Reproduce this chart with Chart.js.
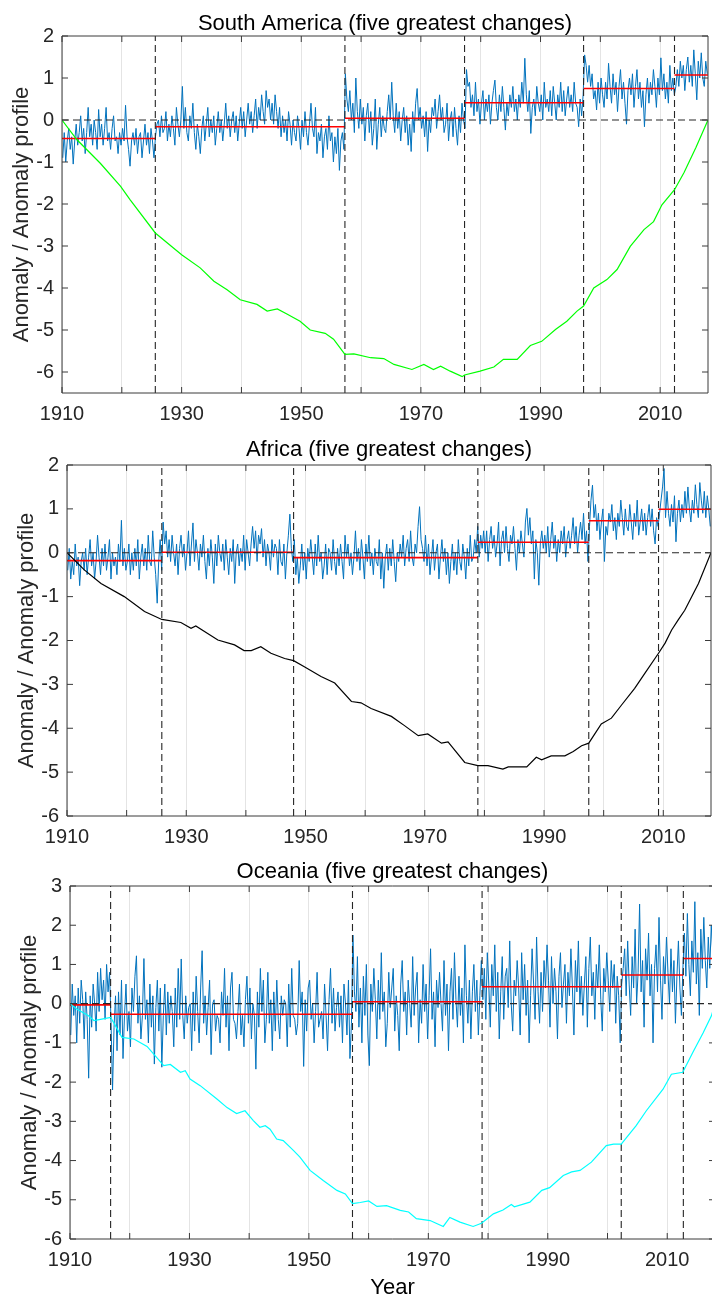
<!DOCTYPE html>
<html>
<head>
<meta charset="utf-8">
<title>Temperature anomalies - five greatest changes</title>
<script src="https://cdn.jsdelivr.net/npm/chart.js@4.4.0/dist/chart.umd.min.js"></script>
<style>
  html, body { margin: 0; padding: 0; background: #fff; overflow: hidden; }
  .panel { position: absolute; left: 0; }
</style>
</head>
<body>
<div class="panel" style="top:0;width:712px;height:430px"><canvas id="southAmericaChart"></canvas></div>
<div class="panel" style="top:430px;width:712px;height:430px"><canvas id="africaChart"></canvas></div>
<div class="panel" style="top:860px;width:720px;height:446px"><canvas id="oceaniaChart"></canvas></div>
<script>
const firstYear = 1910;
const lastYear = 2018;
const samplesPerYear = 4;

// South America: quarterly anomalies 1910-2017
const saAnomaly = [
  -0.9,-0.3,-1.0,-0.5, -0.2,-0.7,-0.4,-1.05, -0.5,-0.1,-0.6,-0.3, 0.1,-0.5,-0.2,-0.8, -0.3,0.3,-0.4,-0.1,
  -0.6,0.0,-0.3,-0.7, 0.25,-0.4,-0.1,-0.6, -0.2,0.3,-0.5,-0.3, -0.7,-0.2,0.1,-0.5, -0.4,-0.8,-0.3,-0.6,
  -0.2,-0.5,0.35,-0.4, -0.7,-1.1,-0.5,-0.3, -0.6,-0.2,-0.8,-0.4, -0.3,-0.9,-0.5,-0.1, -0.6,-0.3,-0.8,-0.2,
  -0.5,-0.9,-0.4,-0.1, 0.0,-0.4,0.1,-0.3, -0.2,0.2,-0.5,-0.1, -0.4,0.1,-0.2,-0.6, 0.3,-0.1,-0.4,0.0,
  0.8,-0.2,0.3,-0.3, -0.5,0.1,-0.2,0.4, -0.3,-0.7,-0.1,-0.4, -0.8,-0.2,0.1,-0.5, -0.1,0.3,-0.4,0.0,
  -0.3,0.1,-0.6,-0.2, 0.2,-0.3,0.0,-0.5, -0.1,0.4,-0.2,0.1, -0.4,0.0,0.2,-0.3, 0.1,-0.5,-0.1,0.3,
  -0.2,0.2,-0.4,0.0, 0.4,-0.1,0.2,-0.3, 0.1,0.5,-0.2,0.3, 0.0,0.6,0.2,-0.1, 0.7,0.3,0.5,0.0,
  0.4,-0.1,0.6,0.2, -0.2,0.3,-0.4,0.1, -0.3,0.0,-0.5,0.2, -0.1,-0.6,0.0,-0.3, -0.5,0.1,-0.2,-0.7,
  0.0,-0.4,0.2,-0.3, -0.6,-0.1,0.4,-0.2, -0.4,0.3,-0.8,-0.3, -0.5,-0.1,-0.9,-0.4, -0.2,-0.7,0.1,-0.5,
  -0.3,-1.0,-0.4,-0.8, -0.2,-1.2,-0.5,-0.3, -0.7,1.1,0.5,0.2, 0.7,0.0,0.4,-0.3, 1.0,0.2,-0.2,0.5,
  -0.1,0.3,-0.5,0.1, 0.4,-0.3,0.2,-0.6, -0.2,0.5,-0.7,-0.1, 0.3,-0.4,0.1,-0.2, -0.3,0.2,0.6,0.0,
  0.9,0.1,-0.3,0.4, -0.2,0.2,-0.5,0.0, 0.3,-0.3,0.1,-0.6, -0.1,-0.75,0.2,-0.3, 0.4,0.75,0.0,0.3,
  -0.2,0.1,-0.4,0.2, -0.75,0.0,-0.3,0.3, 0.1,0.5,-0.2,0.2, 0.6,0.0,0.3,-0.3, -0.1,0.4,-0.5,0.0,
  0.2,-0.4,0.3,-0.2, -0.6,0.1,-0.3,0.4, 0.0,-0.2,1.2,0.8, 0.9,0.3,0.6,0.1, 0.9,0.2,0.5,-0.1,
  0.4,0.7,0.0,0.5, 0.2,0.6,-0.1,0.4, 0.7,0.95,0.3,0.0, 0.6,0.2,0.8,0.3, -0.24,0.4,0.1,0.6,
  0.3,0.8,0.2,0.5, 0.0,0.6,0.3,0.9, 0.4,1.47,0.6,0.2, 0.7,-0.32,0.3,0.5, 0.1,0.8,0.4,0.2,
  0.6,0.0,0.9,0.3, 0.5,0.2,0.7,0.1, 0.8,0.4,0.0,0.6, 0.3,0.9,0.2,0.7, 0.1,0.5,0.8,0.3,
  0.6,0.2,0.9,0.4, 0.3,-0.16,0.5,0.1, 0.6,1.55,1.3,0.9, 1.3,0.8,1.1,0.5, 0.7,0.24,0.9,0.4,
  1.0,0.6,0.3,0.9, 0.5,1.35,0.8,0.4, 1.1,0.6,0.9,0.2, 0.8,1.2,0.5,0.9, 0.4,-0.1,0.7,1.0,
  0.6,1.1,0.3,0.8, 1.2,0.5,0.9,0.3, 0.7,-0.16,0.6,1.0, 0.4,0.9,0.6,1.2, 0.8,0.3,1.0,0.6,
  1.48,0.7,1.1,0.5, 0.9,0.4,1.3,0.7, 1.0,0.6,0.8,1.2, 0.8,1.4,1.0,1.3, 0.7,1.2,1.5,0.9,
  1.3,0.8,1.67,1.1, 0.48,1.4,1.0,1.6, 1.0,0.8,1.4,1.1
];
const saBreaks = [1925.6, 1957.3, 1977.3, 1997.2, 2012.4];
const saLevels = [-0.44, -0.16, 0.04, 0.41, 0.75, 1.07];
const saProfileYears = [1910, 1912.5, 1916.4, 1919.8, 1921.4, 1925.6, 1930, 1933.1, 1935.4, 1937.6,
  1939.8, 1942.6, 1944.3, 1946, 1947.6, 1949.8, 1951.5, 1954, 1955.4, 1957.3, 1958.8, 1961.6, 1963.8,
  1965.5, 1968.5, 1970.5, 1972.1, 1973.3, 1974.9, 1976.9, 1977.3, 1979.9, 1982.2, 1983.8, 1986.1,
  1988.3, 1990.2, 1992.5, 1994.4, 1996.1, 1997.2, 1998.9, 2001.1, 2002.8, 2005, 2007.3, 2008.9,
  2010.3, 2012.4, 2014, 2016, 2018];
const saProfile = [0, -0.47, -1.03, -1.58, -1.9, -2.69, -3.21, -3.52, -3.84, -4.04,
  -4.28, -4.39, -4.55, -4.5, -4.62, -4.79, -5.0, -5.08, -5.22, -5.58, -5.57, -5.66, -5.68,
  -5.82, -5.94, -5.82, -5.94, -5.86, -5.98, -6.11, -6.07, -5.98, -5.88, -5.7, -5.7,
  -5.37, -5.27, -4.99, -4.79, -4.55, -4.43, -4.0, -3.8, -3.56, -3.01, -2.61, -2.42,
  -2.02, -1.66, -1.25, -0.65, 0];

// Africa
const afAnomaly = [
  -0.4,0.1,-0.6,-0.2, -0.5,0.2,-0.3,-0.1, -0.75,-0.2,0.0,-0.4, 0.1,-0.5,-0.1,0.3, -0.3,0.0,-0.6,-0.2,
  0.4,-0.1,-0.5,0.1, -0.3,0.2,-0.4,-0.1, 0.3,-0.6,0.0,-0.3, -0.1,-0.5,0.2,-0.2, 0.74,-0.3,0.1,-0.4,
  -0.2,0.2,-0.5,0.0, -0.4,0.1,-0.3,0.3, -0.6,-0.1,0.2,-0.3, 0.1,-0.4,0.4,-0.2, -0.3,0.5,-0.1,-0.5,
  -1.15,-0.2,0.3,-0.4, 0.7,0.2,0.5,-0.1, 0.3,-0.2,0.4,0.0, -0.3,0.2,-0.5,0.1, 0.4,-0.1,0.2,-0.4,
  0.0,0.5,-0.3,0.2, 0.68,-0.2,0.3,0.0, -0.4,0.2,-0.1,0.4, -0.2,-0.6,0.1,-0.3, 0.3,-0.1,-0.7,0.2,
  -0.3,0.4,0.0,-0.2, 0.2,-0.4,0.3,-0.1, -0.5,0.1,-0.2,0.3, -0.7,0.0,0.2,-0.3, 0.1,-0.2,0.4,-0.4,
  0.3,0.0,-0.3,0.2, 0.6,0.1,0.5,-0.2, 0.4,0.2,0.55,-0.1, 0.3,-0.3,0.2,0.0, -0.4,0.3,-0.1,0.2,
  0.1,-0.5,0.3,-0.2, -0.3,0.2,-0.6,0.0, 0.4,0.88,0.1,-0.2, 0.3,-0.5,-0.1,-0.7, -0.3,0.2,-0.4,0.0,
  -0.6,0.1,-0.2,0.3, -0.1,-0.5,0.2,-0.3, 0.4,-0.2,0.0,-0.6, -0.3,0.2,-0.5,0.1, 0.0,-0.4,0.3,-0.2,
  -0.5,0.1,-0.3,0.2, -0.2,-0.6,0.4,-0.1, 0.2,-0.3,0.0,-0.5, -0.1,0.5,-0.2,0.1, -0.4,0.3,-0.1,-0.6,
  0.2,-0.2,0.4,-0.3, 0.0,-0.5,0.1,-0.2, -0.3,0.3,-0.6,0.0, -0.81,-0.1,0.2,-0.4, 0.1,-0.3,0.3,-0.2,
  -0.66,0.0,-0.2,0.2, -0.1,0.4,-0.3,0.1, 0.3,-0.2,0.5,-0.1, -0.3,0.2,0.0,0.6, 1.05,0.3,0.1,-0.2,
  0.4,-0.3,0.2,-0.5, -0.1,0.3,-0.4,0.0, 0.2,-0.6,-0.1,0.3, -0.2,0.1,-0.5,0.0, -0.7,-0.2,0.2,-0.4,
  0.0,-0.5,0.3,-0.2, -0.4,0.2,-0.1,-0.6, 0.1,-0.3,0.4,-0.2, -0.1,0.3,0.0,0.6, -0.1,0.4,0.1,0.5,
  0.0,0.5,-0.2,0.3, 0.6,0.1,0.4,-0.1, 0.2,0.7,-0.3,0.3, 0.5,0.0,0.6,0.1, -0.2,0.4,0.2,0.6,
  0.1,-0.4,0.3,0.0, 0.5,0.2,-0.1,0.7, 1.01,0.4,0.8,0.2, 0.5,-0.6,0.3,0.0, -0.74,0.2,0.5,0.1,
  0.4,0.0,0.6,-0.1, 0.3,0.7,0.1,0.4, -0.2,0.3,0.0,0.5, 0.2,0.6,-0.1,0.3, 0.5,0.1,0.4,0.8,
  0.2,0.6,0.0,0.4, 0.7,0.3,0.9,0.2, 0.5,-0.2,0.6,1.2, 1.54,0.8,1.1,0.5, 0.9,0.3,0.7,1.0,
  -0.2,0.6,0.4,0.9, 0.7,1.1,0.5,0.8, 0.3,0.9,0.6,1.2, 0.8,0.4,1.0,0.6, 0.5,1.1,0.7,0.3,
  0.9,0.6,1.2,0.4, 0.7,1.0,0.5,0.9, 0.4,0.8,1.1,0.6, 1.0,0.5,0.2,0.8, 0.6,0.9,1.2,1.5,
  1.92,0.8,1.4,0.9, 0.6,1.1,0.7,1.3, 0.25,0.9,1.2,0.7, 1.1,0.8,1.4,0.9, 1.5,1.0,0.7,1.2,
  0.9,1.55,1.1,0.8, 1.6,1.2,0.9,1.4, 0.8,1.3,1.0,0.6
];
const afBreaks = [1925.9, 1948.0, 1978.9, 1997.5, 2009.2];
const afLevels = [-0.18, 0.01, -0.11, 0.24, 0.73, 0.99];
const afProfileYears = [1910, 1912.9, 1915.7, 1919.6, 1923, 1925.9, 1929.1, 1930.8, 1931.6, 1935.3,
  1938.1, 1939.7, 1940.9, 1942.5, 1944.2, 1946.5, 1948, 1949.8, 1952.6, 1954.9, 1957.7, 1959.3,
  1961, 1964.4, 1966.6, 1968.9, 1970.5, 1972.8, 1973.9, 1976.7, 1978.9, 1980.6, 1983.1, 1984,
  1987.1, 1988.7, 1989.6, 1991.2, 1993.5, 1994.9, 1996.3, 1997.5, 1999.6, 2001.3, 2003, 2005.2,
  2006.9, 2009.2, 2010.3, 2011.4, 2012.5, 2013.6, 2015.9, 2018];
const afProfile = [0, -0.39, -0.7, -1.0, -1.34, -1.52, -1.59, -1.72, -1.67, -1.99,
  -2.1, -2.23, -2.23, -2.14, -2.29, -2.41, -2.46, -2.6, -2.82, -2.97, -3.39, -3.42,
  -3.55, -3.73, -3.94, -4.17, -4.13, -4.34, -4.31, -4.78, -4.85, -4.85, -4.93, -4.88,
  -4.88, -4.66, -4.72, -4.63, -4.63, -4.53, -4.4, -4.34, -3.9, -3.77, -3.47, -3.09,
  -2.75, -2.29, -2.06, -1.76, -1.53, -1.31, -0.7, 0];

// Oceania
const ocAnomaly = [
  -0.8,0.5,-0.3,0.2, -1.0,0.4,-0.5,0.6, 0.1,-0.9,0.3,-0.4, -1.9,0.2,-0.6,0.5, 0.0,-0.7,0.8,-0.2,
  0.9,0.1,0.6,-0.4, 1.0,0.3,0.8,-0.5, -2.2,-0.6,0.2,-1.2, 0.3,-0.8,0.6,-1.4, -0.3,0.5,-0.7,-0.2,
  -1.1,0.4,-0.2,0.7, 1.22,-0.5,0.2,-0.9, -0.3,1.15,-0.4,0.1, -1.0,0.5,-0.6,0.2, -1.54,-0.1,0.6,-0.7,
  0.4,-1.62,-0.3,0.5, -0.8,0.3,-0.5,0.2, -0.2,-1.1,0.4,-0.6, 0.9,-0.4,1.14,-0.3, -0.9,0.2,-0.5,-0.1,
  0.0,-1.2,0.3,-0.7, 0.7,-0.2,-1.0,0.4, 1.35,-0.5,0.2,-0.8, -0.1,0.6,-1.3,0.0, 0.1,-0.7,-0.3,-0.4,
  -1.0,0.3,-0.3,0.9, -0.6,0.2,-1.2,0.4, 0.8,-0.4,-0.5,-0.9, -0.2,0.5,-0.8,-0.3, -1.1,0.1,0.7,-0.5,
  0.4,-0.9,0.0,-0.3, -1.67,0.3,-0.6,0.9, -0.2,0.6,-1.0,-0.4, 0.8,-0.5,0.1,-1.2, 0.3,-0.7,0.6,-0.4,
  -0.9,0.2,-0.3,0.1, 0.0,-1.1,0.5,-0.6, 0.9,-0.3,-0.4,-0.8, -0.5,1.1,-0.2,0.3, -1.6,0.1,-0.7,0.4,
  0.6,-0.4,0.0,-1.0, -0.2,0.8,-0.6,-0.4, -0.2,-0.9,0.5,-0.3, -1.2,0.1,0.9,-0.5, 0.4,-0.7,-0.1,0.3,
  -0.6,0.2,-1.0,0.5, 0.0,-0.8,0.6,-1.4, -0.5,1.75,0.3,-0.2, 1.2,-0.6,0.4,-1.0, 0.7,-0.3,1.0,-0.8,
  -1.58,0.5,-0.2,0.9, 0.1,-0.9,0.6,-0.4, 1.3,-0.2,0.3,-1.1, -0.5,0.8,-0.1,0.4, 0.9,-0.7,0.2,-0.3,
  -1.2,0.5,1.1,-0.2, 0.3,-0.8,0.6,0.0, -0.6,1.2,-0.3,0.4, 0.8,-1.0,0.1,-0.5, 1.0,-0.2,0.5,-0.9,
  0.2,1.4,-0.4,0.3, -1.1,0.6,-0.1,0.8, 0.0,-0.7,1.1,-0.3, 0.5,-1.2,0.3,0.9, -0.4,1.3,0.1,-0.6,
  0.7,-0.3,0.4,-1.0, 1.5,0.2,-0.5,0.6, -0.9,0.3,1.0,-0.2, 0.6,-0.8,0.2,1.1, 0.1,0.9,-0.4,1.3,
  0.5,-0.6,1.0,0.2, 1.5,-0.2,0.8,-0.9, 0.3,1.2,-0.4,0.7, 0.9,-0.1,1.6,0.0, -0.7,0.6,0.2,1.1,
  0.4,-0.8,1.3,0.1, 1.0,-0.3,0.6,-1.0, 0.2,1.4,0.5,-0.4, 1.7,0.3,-0.5,0.8, -0.2,1.1,0.4,1.5,
  0.6,-0.6,1.2,0.0, 0.9,0.3,-0.9,0.7, 1.3,-0.1,0.5,1.0, -0.5,0.8,0.2,1.4, 0.4,-0.8,1.1,0.3,
  1.6,0.0,0.7,-0.3, 0.5,1.2,-0.6,0.9, 1.7,0.2,0.8,-0.4, 1.0,0.4,1.5,0.1, -0.7,0.9,0.3,1.3,
  0.6,-0.2,1.1,0.4, 1.0,-0.5,0.7,0.2, -1.0,0.5,0.9,1.4, 0.2,1.6,0.5,-0.3, 1.2,0.4,1.9,0.0,
  0.8,2.54,0.3,1.1, -0.6,1.4,0.6,1.8, 0.2,1.0,-1.0,0.9, 1.5,0.3,2.2,0.6, -0.4,1.2,0.5,1.7,
  0.8,0.0,1.4,0.3, 1.1,-0.5,0.7,1.6, 0.4,-0.3,0.9,1.8, 0.7,2.3,1.0,0.2, 1.6,0.8,2.6,0.5,
  1.3,-0.3,1.9,0.9, 2.2,1.1,0.4,1.7, 0.9,2.0,1.3,0.6
];
const ocBreaks = [1916.8, 1957.3, 1979.0, 2002.3, 2012.7];
const ocLevels = [-0.03, -0.27, 0.05, 0.43, 0.73, 1.15];
const ocProfileYears = [1910, 1911.2, 1913.1, 1914, 1915.1, 1916.8, 1917.6, 1918.7, 1920.7, 1922.9,
  1925.7, 1926.8, 1928.5, 1929.3, 1930.1, 1931.8, 1934.6, 1936.3, 1937.9, 1939.3, 1940.7, 1941.8,
  1942.7, 1943.5, 1944.6, 1945.7, 1947.4, 1948.5, 1950.2, 1952.4, 1954.7, 1956.1, 1957.3, 1958.6,
  1960, 1961.4, 1963, 1965.3, 1966.7, 1968, 1970.3, 1972.5, 1973.6, 1975.3, 1977.5, 1978.9, 1980.9,
  1982.5, 1983.9, 1984.4, 1987, 1989, 1990.3, 1992.6, 1994, 1995.4, 1997.3, 1999.8, 2001, 2002.3,
  2004.8, 2006.5, 2009.3, 2010.7, 2012.6, 2014.3, 2016, 2017.4, 2018];
const ocProfile = [0, -0.14, -0.31, -0.43, -0.4, -0.35, -0.56, -0.86, -0.9, -1.09,
  -1.58, -1.55, -1.75, -1.71, -1.92, -2.09, -2.43, -2.65, -2.8, -2.73, -2.98, -3.15,
  -3.11, -3.2, -3.45, -3.49, -3.74, -3.91, -4.25, -4.51, -4.76, -4.85, -5.1, -5.07,
  -5.03, -5.17, -5.15, -5.27, -5.31, -5.48, -5.53, -5.68, -5.45, -5.57, -5.68, -5.6, -5.36,
  -5.26, -5.12, -5.18, -5.06, -4.76, -4.69, -4.38, -4.29, -4.25, -4.04, -3.62, -3.58, -3.58,
  -3.11, -2.73, -2.18, -1.8, -1.75, -1.24, -0.75, -0.31, 0];

const FONT = '"Liberation Sans", Arial, sans-serif';
Chart.defaults.font.family = FONT;
Chart.defaults.color = '#262626';

function anomalyPoints(values) {
    return values.map((v, i) => ({ x: firstYear + (i + 0.5) / samplesPerYear, y: v }));
}

// red segment means, one flat piece per regime with gaps in between
function stepPoints(breaks, levels) {
    const edges = [firstYear, ...breaks, lastYear];
    const pts = [];
    levels.forEach((level, i) => {
        pts.push({ x: edges[i], y: level }, { x: edges[i + 1], y: level }, { x: edges[i + 1], y: null });
    });
    return pts;
}

function breakLines(breaks, yMin, yMax) {
    const pts = [];
    breaks.forEach(b => pts.push({ x: b, y: yMin }, { x: b, y: yMax }, { x: b, y: null }));
    return pts;
}

// box around the axes with inward ticks, plus the axes title
const axesFrame = {
    id: 'axesFrame',
    afterDatasetsDraw(chart, args, opts) {
        const { ctx, chartArea: area, scales } = chart;
        const tickLen = 6;
        ctx.save();
        ctx.strokeStyle = '#3a3a3a';
        ctx.lineWidth = 1;
        ctx.beginPath();
        scales.x.ticks.forEach(t => {
            const px = scales.x.getPixelForValue(t.value);
            ctx.moveTo(px, area.bottom);
            ctx.lineTo(px, area.bottom - tickLen);
            ctx.moveTo(px, area.top);
            ctx.lineTo(px, area.top + tickLen);
        });
        scales.y.ticks.forEach(t => {
            const py = scales.y.getPixelForValue(t.value);
            ctx.moveTo(area.left, py);
            ctx.lineTo(area.left + tickLen, py);
            ctx.moveTo(area.right, py);
            ctx.lineTo(area.right - tickLen, py);
        });
        ctx.rect(area.left, area.top, area.right - area.left, area.bottom - area.top);
        ctx.stroke();

        ctx.fillStyle = '#000';
        ctx.font = '22px ' + FONT;
        ctx.textAlign = 'center';
        ctx.textBaseline = 'alphabetic';
        ctx.fillText(opts.text, (area.left + area.right) / 2, area.top - opts.gap);
        ctx.restore();
    }
};

function createAnomalyChart(canvasId, panel) {
    const ctx = document.getElementById(canvasId);
    return new Chart(ctx, {
        type: 'line',
        data: {
            datasets: [{
                label: 'Anomaly',
                data: anomalyPoints(panel.anomaly),
                borderColor: '#0072BD',
                borderWidth: 1,
                order: 5
            }, {
                label: 'Regime mean',
                data: stepPoints(panel.breaks, panel.levels),
                borderColor: '#FF0000',
                borderWidth: 1.6,
                order: 4
            }, {
                label: 'Zero',
                data: [{ x: firstYear, y: 0 }, { x: lastYear, y: 0 }],
                borderColor: '#262626',
                borderWidth: 1.1,
                borderDash: [7, 4],
                order: 3
            }, {
                label: 'Change points',
                data: breakLines(panel.breaks, panel.yMin, panel.yMax),
                borderColor: '#262626',
                borderWidth: 1.1,
                borderDash: [7, 4],
                order: 2
            }, {
                label: 'Anomaly profile',
                data: panel.profileYears.map((yr, i) => ({ x: yr, y: panel.profile[i] })),
                borderColor: panel.profileColor,
                borderWidth: 1.2,
                order: 1
            }]
        },
        options: {
            responsive: true,
            maintainAspectRatio: false,
            animation: false,
            events: [],
            layout: {
                padding: { top: panel.padTop, right: panel.padRight, left: 0, bottom: 0 }
            },
            elements: {
                point: { radius: 0 },
                line: { tension: 0, fill: false }
            },
            plugins: {
                legend: { display: false },
                tooltip: { enabled: false },
                axesFrame: { text: panel.title, gap: panel.titleGap }
            },
            scales: {
                x: {
                    type: 'linear',
                    min: firstYear,
                    max: lastYear,
                    grid: { color: '#e4e4e4', drawTicks: false },
                    border: { display: false },
                    ticks: {
                        stepSize: 10,
                        includeBounds: false,
                        autoSkip: false,
                        maxRotation: 0,
                        padding: 9,
                        font: { size: 20 },
                        callback: v => (Math.round(v) - firstYear) % 20 === 0 ? String(Math.round(v)) : ''
                    },
                    title: {
                        display: panel.showYear,
                        text: 'Year',
                        color: '#000',
                        font: { size: 22 },
                        padding: { top: 0, bottom: 4.8 }
                    },
                    afterFit: scale => { scale.height = panel.xAxisHeight; }
                },
                y: {
                    min: panel.yMin,
                    max: panel.yMax,
                    grid: { display: false, drawTicks: false },
                    border: { display: false },
                    ticks: {
                        stepSize: 1,
                        includeBounds: false,
                        padding: 8,
                        font: { size: 20 }
                    },
                    title: {
                        display: true,
                        text: 'Anomaly / Anomaly profile',
                        font: { size: 22 },
                        padding: { top: panel.yAxisWidth - 53.7, bottom: 0 }
                    },
                    afterFit: scale => { scale.width = panel.yAxisWidth; }
                }
            }
        },
        plugins: [axesFrame]
    });
}

createAnomalyChart('southAmericaChart', {
    title: 'South America (five greatest changes)',
    anomaly: saAnomaly, breaks: saBreaks, levels: saLevels,
    profileYears: saProfileYears, profile: saProfile, profileColor: '#00FF00',
    yMin: -6.5, yMax: 2,
    yAxisWidth: 62, xAxisHeight: 37, padTop: 36, padRight: 4, titleGap: 6.4, showYear: false
});

createAnomalyChart('africaChart', {
    title: 'Africa (five greatest changes)',
    anomaly: afAnomaly, breaks: afBreaks, levels: afLevels,
    profileYears: afProfileYears, profile: afProfile, profileColor: '#000000',
    yMin: -6, yMax: 2,
    yAxisWidth: 67, xAxisHeight: 44, padTop: 35, padRight: 1, titleGap: 8.8, showYear: false
});

createAnomalyChart('oceaniaChart', {
    title: 'Oceania (five greatest changes)',
    anomaly: ocAnomaly, breaks: ocBreaks, levels: ocLevels,
    profileYears: ocProfileYears, profile: ocProfile, profileColor: '#00FFFF',
    yMin: -6, yMax: 3,
    yAxisWidth: 70, xAxisHeight: 67, padTop: 26, padRight: 5, titleGap: 8.3, showYear: true
});
</script>
</body>
</html>
